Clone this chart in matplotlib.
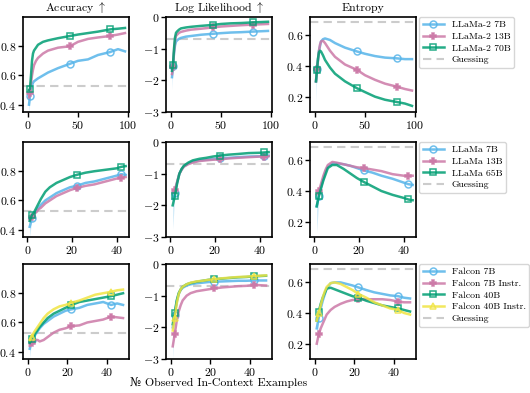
import matplotlib
matplotlib.use("Agg")
import matplotlib.pyplot as plt
import numpy as np

plt.rcParams['font.family'] = ['cmr10', 'DejaVu Serif']
plt.rcParams['mathtext.fontset'] = 'cm'
plt.rcParams['axes.formatter.use_mathtext'] = True
plt.rcParams['font.size'] = 8

# x grids (number of in-context examples)
x_r1 = [1, 2, 3, 4, 5, 6, 8, 10, 15, 20, 30, 42, 50, 60, 70, 82, 90, 97]
x_r2 = [1, 2, 3, 4, 5, 6, 8, 10, 13, 16, 19, 22, 26, 30, 35, 40, 42, 44]
x_r3 = [1, 2, 3, 4, 5, 6, 8, 10, 13, 16, 19, 22, 26, 30, 34, 38, 42, 45, 48]
marks_r1 = [2, 42, 82]
marks_r23 = [2, 22, 42]

names_r1 = ['LLaMa-2 7B', 'LLaMa-2 13B', 'LLaMa-2 70B']
names_r2 = ['LLaMa 7B', 'LLaMa 13B', 'LLaMa 65B']
names_r3 = ['Falcon 7B', 'Falcon 7B Instr.', 'Falcon 40B', 'Falcon 40B Instr.']

# row 1: LLaMa-2
acc_r1 = [
    [0.40, 0.46, 0.51, 0.53, 0.55, 0.56, 0.57, 0.58, 0.60, 0.62, 0.65, 0.68, 0.70, 0.71, 0.74, 0.76, 0.78, 0.765],
    [0.45, 0.48, 0.55, 0.60, 0.64, 0.67, 0.70, 0.72, 0.75, 0.77, 0.79, 0.80, 0.83, 0.85, 0.86, 0.87, 0.88, 0.89],
    [0.50, 0.51, 0.60, 0.70, 0.75, 0.77, 0.79, 0.81, 0.83, 0.84, 0.855, 0.87, 0.88, 0.89, 0.90, 0.915, 0.92, 0.925],
]
ll_r1 = [
    [-1.9, -1.55, -1.15, -0.9, -0.78, -0.74, -0.69, -0.66, -0.62, -0.60, -0.56, -0.53, -0.51, -0.49, -0.48, -0.46, -0.45, -0.44],
    [-1.8, -1.59, -1.1, -0.75, -0.60, -0.56, -0.50, -0.47, -0.43, -0.40, -0.37, -0.33, -0.30, -0.28, -0.26, -0.24, -0.23, -0.22],
    [-1.7, -1.51, -1.0, -0.65, -0.50, -0.46, -0.40, -0.36, -0.33, -0.31, -0.28, -0.25, -0.22, -0.20, -0.19, -0.17, -0.16, -0.15],
]
ent_r1 = [
    [0.30, 0.38, 0.44, 0.50, 0.53, 0.56, 0.575, 0.58, 0.57, 0.55, 0.52, 0.495, 0.48, 0.465, 0.455, 0.45, 0.445, 0.445],
    [0.30, 0.38, 0.44, 0.50, 0.54, 0.56, 0.565, 0.55, 0.50, 0.46, 0.41, 0.375, 0.34, 0.31, 0.285, 0.265, 0.25, 0.24],
    [0.30, 0.375, 0.45, 0.49, 0.50, 0.495, 0.47, 0.44, 0.39, 0.35, 0.30, 0.255, 0.23, 0.20, 0.18, 0.165, 0.155, 0.14],
]

# row 2: LLaMa
acc_r2 = [
    [0.42, 0.48, 0.51, 0.53, 0.55, 0.57, 0.60, 0.62, 0.65, 0.67, 0.69, 0.70, 0.72, 0.73, 0.75, 0.77, 0.78, 0.775],
    [0.47, 0.49, 0.51, 0.52, 0.54, 0.55, 0.58, 0.60, 0.63, 0.65, 0.67, 0.685, 0.70, 0.71, 0.73, 0.75, 0.755, 0.76],
    [0.46, 0.50, 0.52, 0.55, 0.58, 0.61, 0.66, 0.69, 0.72, 0.74, 0.76, 0.775, 0.79, 0.80, 0.81, 0.82, 0.83, 0.835],
]
ll_r2 = [
    [-1.8, -1.60, -1.28, -1.0, -0.86, -0.77, -0.68, -0.62, -0.58, -0.56, -0.54, -0.52, -0.50, -0.48, -0.46, -0.45, -0.44, -0.43],
    [-1.6, -1.50, -1.25, -1.0, -0.88, -0.78, -0.70, -0.65, -0.60, -0.58, -0.56, -0.55, -0.52, -0.50, -0.48, -0.46, -0.46, -0.45],
    [-2.0, -1.70, -1.30, -1.0, -0.85, -0.75, -0.65, -0.58, -0.53, -0.50, -0.46, -0.43, -0.40, -0.38, -0.35, -0.34, -0.33, -0.32],
]
ent_r2 = [
    [0.30, 0.37, 0.43, 0.48, 0.53, 0.56, 0.58, 0.58, 0.575, 0.565, 0.55, 0.535, 0.52, 0.50, 0.48, 0.455, 0.445, 0.44],
    [0.38, 0.40, 0.45, 0.50, 0.54, 0.57, 0.59, 0.585, 0.575, 0.565, 0.555, 0.55, 0.54, 0.53, 0.51, 0.50, 0.50, 0.50],
    [0.30, 0.37, 0.42, 0.47, 0.51, 0.55, 0.57, 0.57, 0.545, 0.515, 0.485, 0.46, 0.43, 0.40, 0.375, 0.355, 0.345, 0.34],
]

# row 3: Falcon
acc_r3 = [
    [0.42, 0.48, 0.50, 0.52, 0.54, 0.56, 0.59, 0.61, 0.64, 0.66, 0.68, 0.69, 0.70, 0.72, 0.73, 0.74, 0.72, 0.73, 0.72],
    [0.44, 0.46, 0.48, 0.48, 0.48, 0.47, 0.48, 0.50, 0.53, 0.55, 0.56, 0.575, 0.58, 0.60, 0.61, 0.62, 0.64, 0.635, 0.63],
    [0.46, 0.49, 0.51, 0.53, 0.55, 0.57, 0.60, 0.63, 0.66, 0.68, 0.70, 0.72, 0.74, 0.75, 0.76, 0.77, 0.78, 0.79, 0.80],
    [0.48, 0.50, 0.53, 0.55, 0.57, 0.59, 0.63, 0.66, 0.69, 0.71, 0.72, 0.735, 0.75, 0.77, 0.79, 0.80, 0.81, 0.82, 0.825],
]
ll_r3 = [
    [-2.0, -1.60, -1.2, -0.95, -0.82, -0.75, -0.68, -0.64, -0.61, -0.59, -0.57, -0.56, -0.55, -0.54, -0.53, -0.53, -0.52, -0.52, -0.52],
    [-2.6, -2.21, -1.8, -1.5, -1.3, -1.15, -1.0, -0.92, -0.86, -0.83, -0.80, -0.77, -0.74, -0.72, -0.70, -0.69, -0.66, -0.67, -0.68],
    [-1.9, -1.54, -1.15, -0.92, -0.80, -0.72, -0.64, -0.60, -0.56, -0.53, -0.50, -0.48, -0.46, -0.44, -0.42, -0.41, -0.39, -0.38, -0.37],
    [-2.1, -1.70, -1.25, -0.95, -0.80, -0.72, -0.64, -0.59, -0.55, -0.53, -0.50, -0.48, -0.45, -0.43, -0.41, -0.40, -0.38, -0.37, -0.36],
]
ent_r3 = [
    [0.30, 0.37, 0.43, 0.48, 0.52, 0.56, 0.595, 0.60, 0.60, 0.59, 0.58, 0.567, 0.55, 0.535, 0.525, 0.515, 0.51, 0.50, 0.495],
    [0.20, 0.26, 0.30, 0.33, 0.36, 0.39, 0.42, 0.44, 0.46, 0.475, 0.485, 0.49, 0.49, 0.49, 0.49, 0.485, 0.475, 0.47, 0.47],
    [0.35, 0.41, 0.46, 0.50, 0.53, 0.56, 0.565, 0.555, 0.54, 0.525, 0.51, 0.50, 0.48, 0.465, 0.45, 0.44, 0.43, 0.42, 0.41],
    [0.35, 0.40, 0.45, 0.50, 0.54, 0.57, 0.595, 0.60, 0.59, 0.57, 0.55, 0.525, 0.50, 0.47, 0.45, 0.43, 0.42, 0.40, 0.39],
]

# lowest value of the wide band at the first point, per panel
spike_lo = [[0.33, -2.3, 0.17], [0.35, -2.75, 0.13], [0.36, -3.0, 0.15]]

guess = [0.53, -0.69, 0.69]

colors = ['#56B4E9', '#CC79A7', '#009E73', '#F0E442']
markers = ['o', 'P', 's', '^']

rows = [
    (x_r1, marks_r1, names_r1, [acc_r1, ll_r1, ent_r1], (-5, 101), [0, 50, 100]),
    (x_r2, marks_r23, names_r2, [acc_r2, ll_r2, ent_r2], (-2, 45.5), [0, 20, 40]),
    (x_r3, marks_r23, names_r3, [acc_r3, ll_r3, ent_r3], (-2.4, 51), [0, 20, 40]),
]
ylims = [(0.35, 1.0), (-3, 0), (0.1, 0.72)]
yticks = [[0.4, 0.6, 0.8], [-3, -2, -1, 0], [0.2, 0.4, 0.6]]
titles = [r'Accuracy $\uparrow$', r'Log Likelihood $\uparrow$', 'Entropy']

W, H = 530, 393
fig = plt.figure(figsize=(W / 100, H / 100), dpi=100)
lefts = [23, 166, 310]
tops = [17, 142, 264]
aw, ah = 106, 95

for r, (xs, marks, names, panels, xlim, xt) in enumerate(rows):
    mi = [xs.index(m) for m in marks]
    for c in range(3):
        ax = fig.add_axes([lefts[c] / W, 1 - (tops[r] + ah) / H, aw / W, ah / H])
        data = panels[c]
        lo = [spike_lo[r][c], data[0][1], data[0][2]]
        ax.fill_between(xs[:3], lo, data[0][:3], color=colors[0], alpha=0.3, lw=0)
        ax.axhline(guess[c], color='#cccccc', ls='--', lw=1.5, dashes=(4, 2.5),
                   label='Guessing', zorder=1)
        hs = []
        for k, ys in enumerate(data):
            mfc = colors[k] if markers[k] == 'P' else 'none'
            h, = ax.plot(xs, ys, color=colors[k], lw=1.8, alpha=0.85,
                         marker=markers[k], markevery=mi, ms=5, mfc=mfc,
                         mew=1.1, label=names[k], zorder=3)
            hs.append(h)
        ax.set_xlim(*xlim)
        ax.set_ylim(*ylims[c])
        ax.set_xticks(xt)
        ax.set_yticks(yticks[c])
        ax.tick_params(direction='out', length=3.5, width=1, labelsize=8.5, pad=1.5)
        for s in ax.spines.values():
            s.set_linewidth(1.2)
        if r == 0:
            ax.set_title(titles[c], fontsize=8.5, pad=4)
        if c == 2:
            g = ax.get_lines()[0]
            ax.legend(hs + [g], names + ['Guessing'], loc='upper left',
                      bbox_to_anchor=(1.03, 1.0), fontsize=7, frameon=True,
                      edgecolor='#cccccc', handlelength=2.2, borderaxespad=0,
                      labelspacing=0.3, borderpad=0.35)

fig.text((166 + 53) / W, 1 - 383 / H, '№ Observed In-Context Examples',
         ha='center', va='center', fontsize=8.5)

fig.savefig('out.png', dpi=100)
